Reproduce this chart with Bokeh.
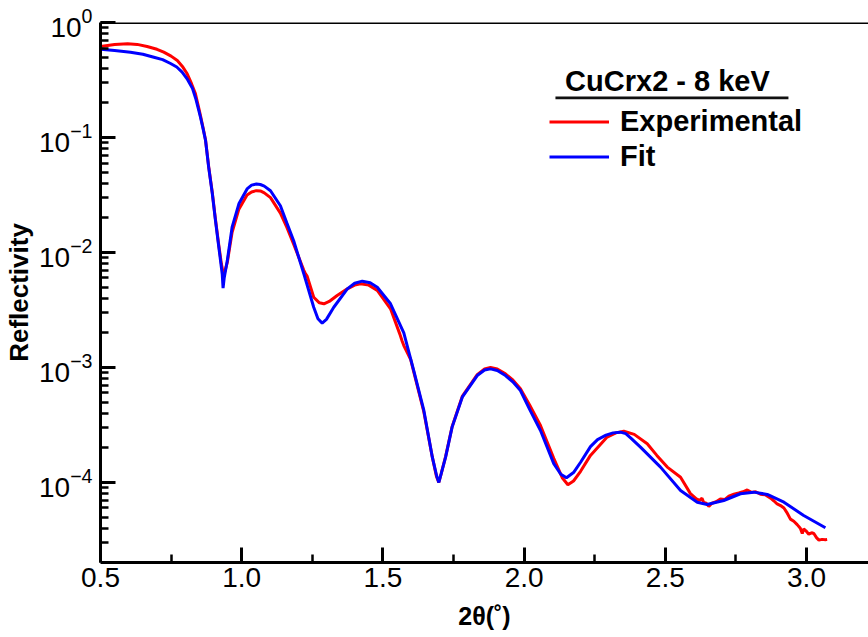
from bokeh.plotting import figure
from bokeh.models import (Range1d, LinearAxis, LogAxis, LogScale, FixedTicker, LogTicker,
                          PrintfTickFormatter, LogTickFormatter, Legend, LegendItem, Span,
                          BoxAnnotation, ColumnDataSource)
from bokeh.embed import file_html
from bokeh.resources import INLINE

# ---------------- data ----------------
exp_x = [0.500, 0.550, 0.596, 0.630, 0.665, 0.700, 0.724, 0.750, 0.772, 0.790, 0.807,
         0.822, 0.836, 0.848, 0.854, 0.863, 0.872, 0.883, 0.896, 0.907,
         0.919, 0.928, 0.934, 0.940, 0.949, 0.966, 0.990, 1.019, 1.035, 1.052, 1.066, 1.080, 1.102,
         1.137, 1.160, 1.184, 1.220, 1.225, 1.232, 1.255, 1.275, 1.291, 1.310, 1.338,
         1.374, 1.400, 1.421, 1.450, 1.480, 1.527, 1.560, 1.568, 1.574, 1.598, 1.609,
         1.645, 1.675, 1.690, 1.698, 1.706, 1.722, 1.745, 1.781, 1.834, 1.860, 1.881, 1.905, 1.934,
         1.960, 1.987, 2.020, 2.058, 2.105, 2.135, 2.155, 2.175, 2.200, 2.235, 2.294, 2.325, 2.353,
         2.390, 2.436, 2.470, 2.507, 2.554, 2.589, 2.610, 2.622, 2.630, 2.636, 2.645,
         2.654, 2.665, 2.680, 2.695, 2.710, 2.725, 2.743, 2.760, 2.775, 2.790, 2.805,
         2.820, 2.837, 2.855, 2.873, 2.885, 2.896, 2.908, 2.920, 2.930, 2.943, 2.955,
         2.967, 2.978, 2.985, 2.990, 2.998, 3.008, 3.018, 3.026, 3.036, 3.044, 3.055,
         3.067, 3.073]
exp_y = [0.618, 0.645, 0.653, 0.645, 0.618, 0.585, 0.552, 0.510, 0.467, 0.415, 0.358,
         0.295, 0.241, 0.180, 0.155, 0.122, 0.0950, 0.0560, 0.0330, 0.0195,
         0.0115, 0.0080, 0.0067, 0.0068, 0.0082, 0.0150, 0.0238, 0.0316, 0.0336, 0.0345, 0.0343, 0.0330, 0.0300,
         0.0220, 0.0165, 0.0118, 0.0070, 0.0066, 0.0062, 0.00408, 0.00365, 0.00358, 0.00375, 0.00423,
         0.00483, 0.00520, 0.00535, 0.00520, 0.00468, 0.00324, 0.00195, 0.00170, 0.00155, 0.00118, 0.00092,
         0.00041, 0.000166, 0.000112, 0.000100, 0.000118, 0.000168, 0.000305, 0.000560, 0.000865, 0.00097, 0.00100, 0.00097, 0.00088,
         0.00078, 0.000653, 0.00047, 0.000313, 0.000162, 0.000110, 9.55e-5, 1.03e-4, 1.25e-4, 1.72e-4, 2.48e-4, 2.70e-4, 2.79e-4,
         2.62e-4, 2.17e-4, 1.72e-4, 1.36e-4, 1.11e-4, 8.0e-5, 7.2e-5, 7.0e-5, 7.3e-5, 6.7e-5, 6.6e-5,
         6.2e-5, 6.6e-5, 6.8e-5, 7.2e-5, 7.1e-5, 7.6e-5, 7.9e-5, 8.1e-5, 8.3e-5, 8.6e-5, 8.2e-5,
         8.3e-5, 7.9e-5, 7.8e-5, 7.3e-5, 6.9e-5, 6.5e-5, 6.3e-5, 6.0e-5, 5.5e-5, 4.8e-5, 4.6e-5,
         4.3e-5, 4.0e-5, 3.6e-5, 3.95e-5, 3.8e-5, 3.55e-5, 3.65e-5, 3.6e-5, 3.3e-5, 3.15e-5, 3.2e-5,
         3.18e-5, 3.2e-5]

fit_x = [0.500, 0.550, 0.606, 0.650, 0.689, 0.720, 0.748, 0.770, 0.789, 0.808, 0.825,
         0.838, 0.848, 0.854, 0.863, 0.872, 0.883, 0.896, 0.907,
         0.919, 0.931, 0.934, 0.938, 0.949, 0.966, 0.990, 1.019, 1.035, 1.052, 1.066, 1.080, 1.102,
         1.137, 1.160, 1.184, 1.220, 1.255, 1.270, 1.285, 1.300, 1.326, 1.374, 1.400,
         1.427, 1.455, 1.480, 1.527, 1.574, 1.609, 1.645, 1.675, 1.690, 1.698, 1.706,
         1.722, 1.745, 1.781, 1.834, 1.860, 1.881, 1.905, 1.934, 1.960, 1.987, 2.020, 2.058, 2.105, 2.130,
         2.150, 2.175, 2.200, 2.235, 2.260, 2.290, 2.315, 2.341, 2.360, 2.380, 2.412, 2.483, 2.554, 2.613,
         2.648, 2.707, 2.766, 2.813, 2.861, 2.920, 2.990, 3.067]
fit_y = [0.586, 0.570, 0.552, 0.530, 0.499, 0.475, 0.440, 0.410, 0.370, 0.320, 0.270,
         0.215, 0.172, 0.150, 0.120, 0.0942, 0.0552, 0.0324, 0.0190,
         0.0111, 0.0065, 0.0049, 0.0060, 0.0085, 0.0166, 0.0265, 0.0357, 0.0385, 0.0394, 0.0390, 0.0378, 0.0344,
         0.0255, 0.0180, 0.01265, 0.00652, 0.00334, 0.00265, 0.00243, 0.00262, 0.00334, 0.00483, 0.00540,
         0.00563, 0.00545, 0.00499, 0.00358, 0.00200, 0.000942, 0.000423, 0.000166, 0.000115, 0.000100, 0.000118,
         0.000166, 0.000303, 0.000552, 0.000851, 0.00095, 0.000973, 0.00094, 0.00085, 0.00075, 0.000631, 0.00043, 0.000283, 0.000146, 0.000118,
         0.000110, 0.000122, 0.000150, 0.000205, 0.000236, 0.000258, 0.000270, 0.000274, 0.000266, 0.000241, 0.000203, 0.000136, 8.5e-5, 6.74e-5,
         6.44e-5, 6.97e-5, 7.98e-5, 8.24e-5, 7.87e-5, 6.74e-5, 5.16e-5, 4.04e-5]

x_ticks = [0.5, 1.0, 1.5, 2.0, 2.5, 3.0]
x_minor = [0.75, 1.25, 1.75, 2.25, 2.75]
legend_title = "\u00a0\u00a0CuCrx2 - 8 keV"
series_labels = ["Experimental", "Fit"]
x_label = "2\u03b8(\u02da)"
y_label = "Reflectivity"

FONT = "Liberation Sans"

p = figure(width=868, height=637, output_backend="svg", toolbar_location=None,
           x_axis_type=None, y_axis_type=None,
           x_range=Range1d(0.5, 3.2195), y_range=Range1d(2.014e-5, 1.0),
           min_border_left=100, min_border_right=0, min_border_top=22, min_border_bottom=75)
p.y_scale = LogScale()
p.outline_line_color = None
p.grid.visible = False
p.background_fill_color = "white"

xaxis = LinearAxis(ticker=FixedTicker(ticks=x_ticks, minor_ticks=x_minor),
                   formatter=PrintfTickFormatter(format="%.1f"))
yaxis = LogAxis(ticker=LogTicker(num_minor_ticks=10), formatter=LogTickFormatter())
for ax in (xaxis, yaxis):
    ax.axis_line_width = 3
    ax.axis_line_color = "black"
    ax.major_tick_in = 15
    ax.major_tick_out = 0
    ax.minor_tick_in = 8
    ax.minor_tick_out = 0
    ax.major_tick_line_width = 3
    ax.major_tick_line_color = "black"
    ax.minor_tick_line_width = 2.5
    ax.minor_tick_line_color = "black"
    ax.major_label_text_font = FONT
    ax.major_label_text_font_size = "28px"
    ax.major_label_text_color = "black"
    ax.axis_label_text_font = FONT
    ax.axis_label_text_font_style = "bold"
    ax.axis_label_text_color = "black"

xaxis.axis_label = x_label
xaxis.axis_label_text_font_size = "25px"
xaxis.major_label_standoff = 5
xaxis.axis_label_standoff = 12
yaxis.axis_label = y_label
yaxis.axis_label_text_font_size = "26px"
yaxis.major_label_standoff = 8
yaxis.axis_label_standoff = 2

p.add_layout(xaxis, "below")
p.add_layout(yaxis, "left")

# top frame line
p.add_layout(Span(location=1.0, dimension="width", line_color="black", line_width=3))

src_exp = ColumnDataSource(dict(x=exp_x, y=exp_y))
src_fit = ColumnDataSource(dict(x=fit_x, y=fit_y))
r_exp = p.line("x", "y", source=src_exp, line_color="#ff0000", line_width=3)
r_fit = p.line("x", "y", source=src_fit, line_color="#0000ff", line_width=3)

legend = Legend(items=[LegendItem(label=series_labels[0], renderers=[r_exp]),
                       LegendItem(label=series_labels[1], renderers=[r_fit])],
                location=(449, 388), glyph_width=60, glyph_height=35, label_height=35,
                label_standoff=11, spacing=0, padding=0, margin=0,
                border_line_color=None, background_fill_alpha=0,
                label_text_font=FONT, label_text_font_size="29px",
                label_text_font_style="bold", label_text_color="black",
                title=legend_title, title_text_font=FONT, title_text_font_size="29px",
                title_text_font_style="bold", title_text_color="black", title_standoff=6)
p.add_layout(legend)

# underline of legend title
p.add_layout(BoxAnnotation(left=2.111, right=2.936, bottom=10**(-0.668), top=10**(-0.644),
                           fill_color="#111111", fill_alpha=1.0, line_alpha=0))

open("out.html", "w").write(file_html(p, INLINE))
